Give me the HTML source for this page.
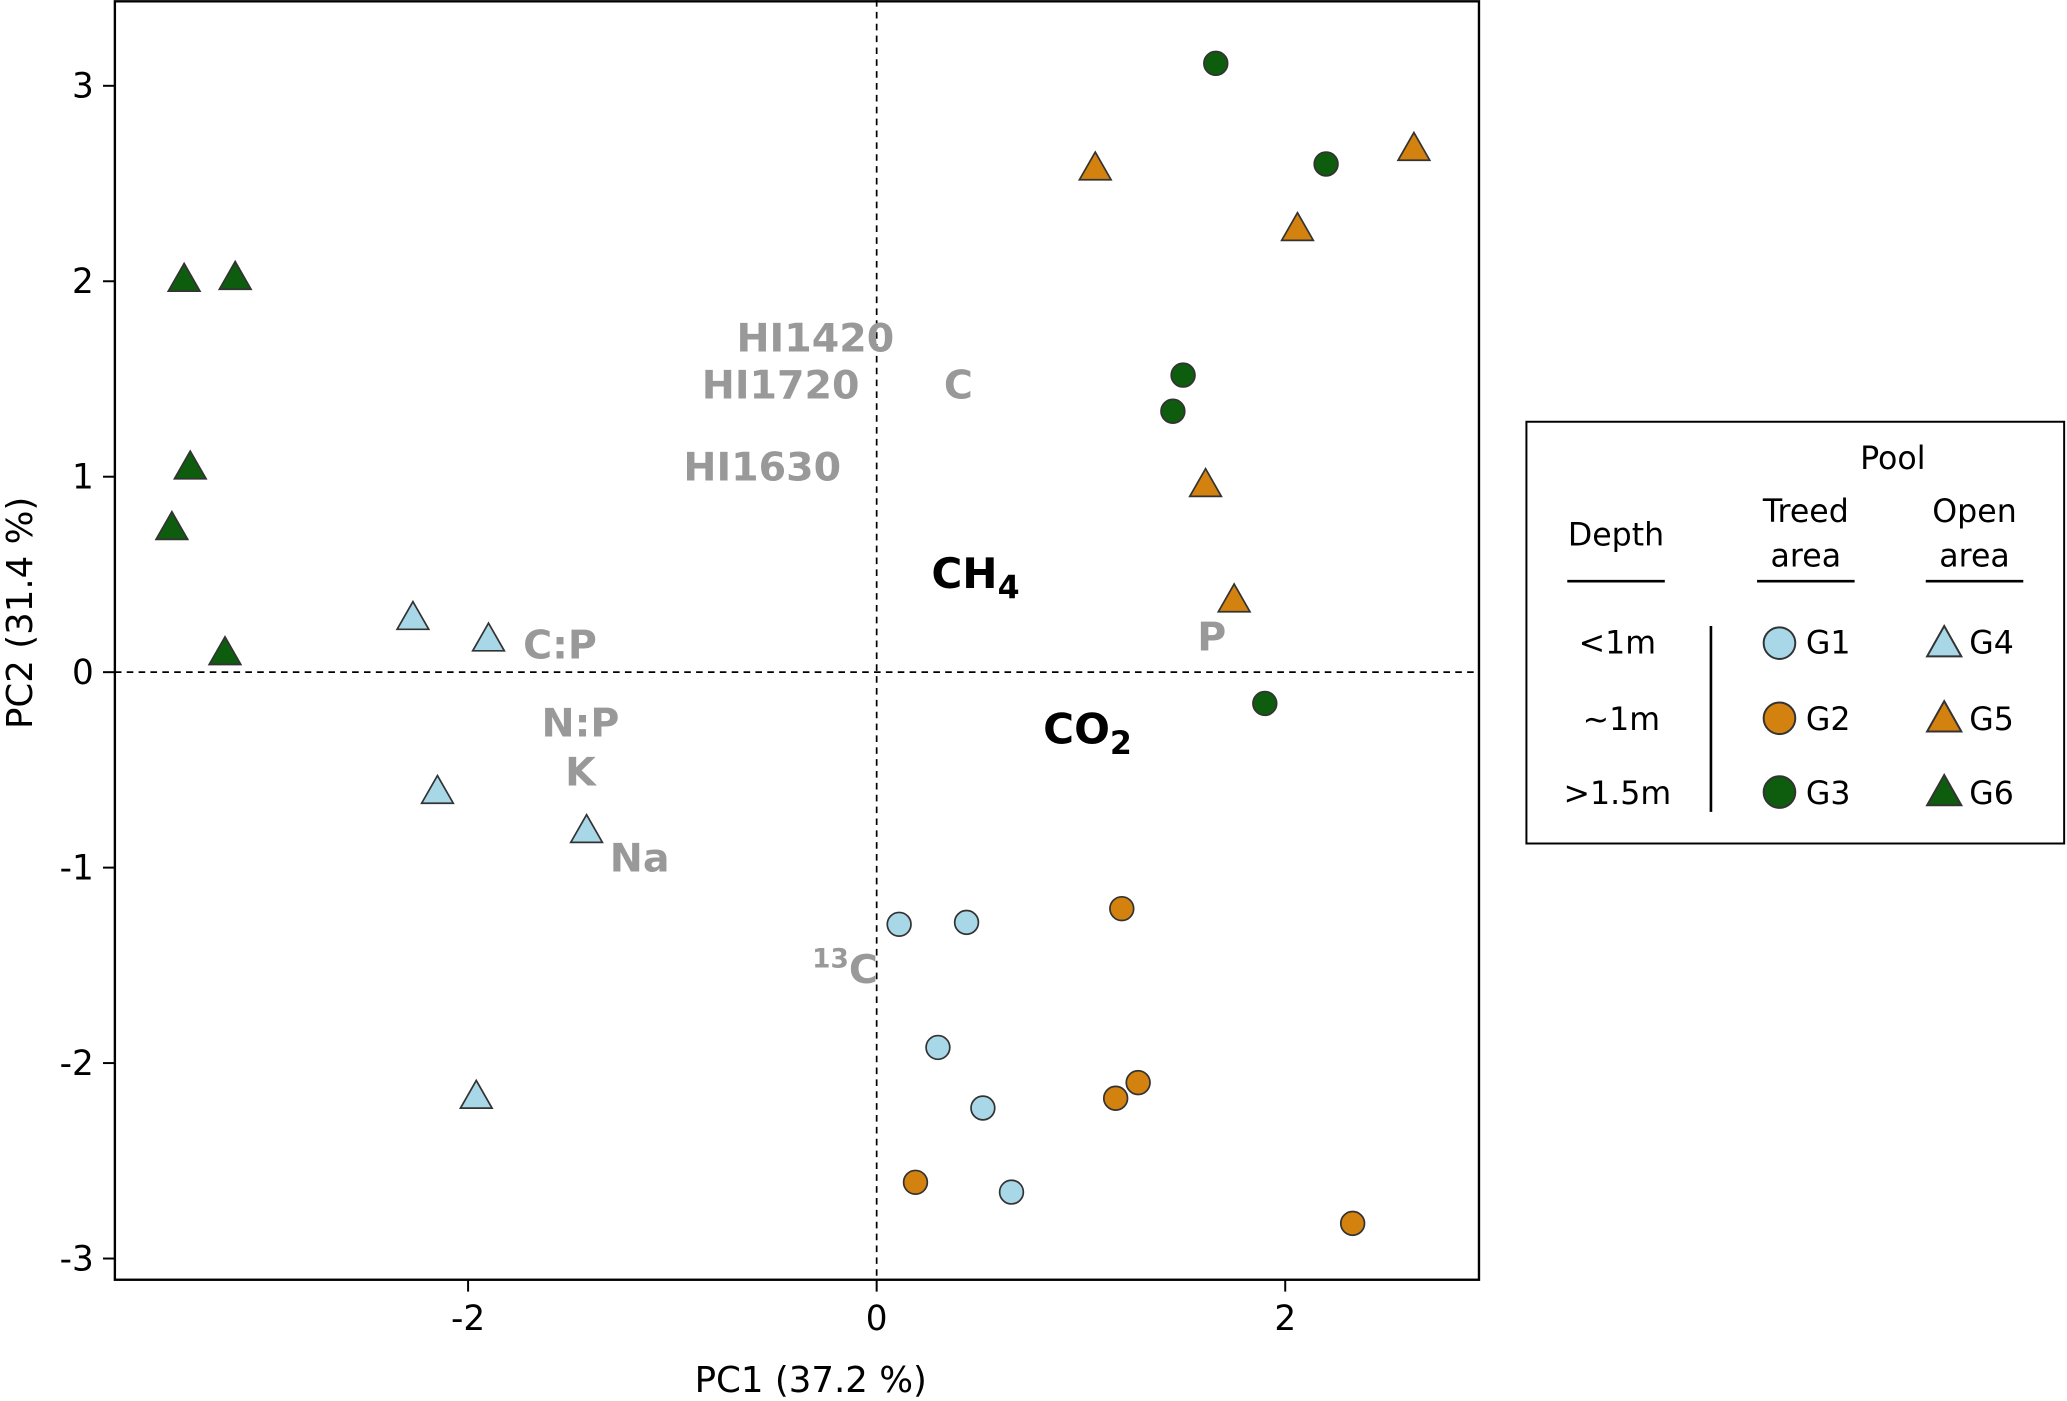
<!DOCTYPE html>
<html><head><meta charset="utf-8"><style>
html,body{margin:0;padding:0;background:#fff;}
svg{display:block;font-family:"DejaVu Sans","Liberation Sans",sans-serif;}
</style></head><body>
<svg id="chart" width="2067" height="1401" viewBox="0 0 1568 1063" xmlns="http://www.w3.org/2000/svg">
<rect x="0" y="0" width="1568" height="1063" fill="#fff"/>
<g id="plot"></g>
<g id="legend">
<rect x="1158" y="320" width="408" height="320" fill="#fff" stroke="#000" stroke-width="1.5"/>
<text x="1436" y="356" font-size="24" text-anchor="middle">Pool</text>
<text x="1226" y="414" font-size="24" text-anchor="middle">Depth</text>
<line x1="1189" y1="441" x2="1263" y2="441" stroke="#000" stroke-width="2"/>
<text x="1370" y="396" font-size="24" text-anchor="middle">Treed</text>
<text x="1370" y="430" font-size="24" text-anchor="middle">area</text>
<line x1="1333" y1="441" x2="1407" y2="441" stroke="#000" stroke-width="2"/>
<text x="1498" y="396" font-size="24" text-anchor="middle">Open</text>
<text x="1498" y="430" font-size="24" text-anchor="middle">area</text>
<line x1="1461" y1="441" x2="1535" y2="441" stroke="#000" stroke-width="2"/>
<line x1="1298" y1="475" x2="1298" y2="616" stroke="#000" stroke-width="2"/>
<text x="1227" y="496" font-size="24" text-anchor="middle">&lt;1m</text>
<text x="1230" y="554" font-size="24" text-anchor="middle">~1m</text>
<text x="1227" y="610" font-size="24" text-anchor="middle">&gt;1.5m</text>
<g><circle cx="1350" cy="488" r="12" fill="#a8d8e8" stroke="#333" stroke-width="1.5"/><text x="1370" y="496" font-size="24">G1</text></g>
<g><circle cx="1350" cy="545" r="12" fill="#d4820f" stroke="#333" stroke-width="1.5"/><text x="1370" y="554" font-size="24">G2</text></g>
<g><circle cx="1350" cy="601" r="12" fill="#0e5c0e" stroke="#333" stroke-width="1.5"/><text x="1370" y="610" font-size="24">G3</text></g>
<g><polygon points="1475,475 1488,498 1462,498" fill="#a8d8e8" stroke="#333" stroke-width="1.5"/><text x="1494" y="496" font-size="24">G4</text></g>
<g><polygon points="1475,532 1488,555 1462,555" fill="#d4820f" stroke="#333" stroke-width="1.5"/><text x="1494" y="554" font-size="24">G5</text></g>
<g><polygon points="1475,588 1488,611 1462,611" fill="#0e5c0e" stroke="#333" stroke-width="1.5"/><text x="1494" y="610" font-size="24">G6</text></g>
</g>
</svg>
<script>
const xTicks=[-2,0,2];
const yTicks=[3,2,1,0,-1,-2,-3];
const groups=["G1","G2","G3","G4","G5","G6"];
const g1x=[0.11,0.44,0.30,0.52,0.66], g1y=[-1.29,-1.28,-1.92,-2.23,-2.66];
const g2x=[1.20,1.28,1.17,0.19,2.33], g2y=[-1.21,-2.10,-2.18,-2.61,-2.82];
const g3x=[1.66,2.20,1.50,1.45,1.90], g3y=[3.115,2.60,1.52,1.335,-0.16];
const g4x=[-2.27,-1.90,-2.15,-1.42,-1.96], g4y=[0.28,0.17,-0.61,-0.81,-2.17];
const g5x=[1.07,2.63,2.06,1.61,1.75], g5y=[2.58,2.68,2.27,0.96,0.37];
const g6x=[-3.39,-3.14,-3.36,-3.45,-3.19], g6y=[2.01,2.02,1.05,0.74,0.10];
const varLabels=["HI1420","HI1720","HI1630","C","C:P","N:P","K","Na","P"];
const varX=[-0.30,-0.47,-0.56,0.40,-1.55,-1.45,-1.45,-1.16,1.64];
const varY=[1.64,1.40,0.98,1.40,0.07,-0.33,-0.58,-1.02,0.11];

const X0=87,X1=1122,Y0=0,Y1=971;
const sx=v=>665+v*155;
const sy=v=>510-v*148.3;
const NS="http://www.w3.org/2000/svg";
const plot=document.getElementById('plot');
function mk(tag,attrs,parent){const e=document.createElementNS(NS,tag);for(const k in attrs)e.setAttribute(k,attrs[k]);(parent||plot).appendChild(e);return e;}

let e=mk('line',{x1:sx(0),y1:Y0,x2:sx(0),y2:Y1,stroke:'#000','stroke-width':1.3,'stroke-dasharray':'5,4'});


e=mk('line',{x1:X0,y1:sy(0),x2:X1,y2:sy(0),stroke:'#000','stroke-width':1.3,'stroke-dasharray':'5,4'});



e=mk('rect',{x:X0,y:Y0+1,width:X1-X0,height:Y1-Y0-1,fill:'none',stroke:'#000','stroke-width':1.8});



xTicks.forEach(t=>{
  mk('line',{x1:sx(t),y1:Y1,x2:sx(t),y2:Y1+9,stroke:'#000','stroke-width':1.5});
  const tx=mk('text',{x:sx(t),y:Y1+38,'font-size':26,'text-anchor':'middle'});
  tx.textContent=t;
  
  
});
yTicks.forEach(t=>{
  mk('line',{x1:X0-9,y1:sy(t),x2:X0,y2:sy(t),stroke:'#000','stroke-width':1.5});
  const tx=mk('text',{x:X0-16,y:sy(t)+9,'font-size':26,'text-anchor':'end'});
  tx.textContent=t;
  
  
});
e=mk('text',{x:615,y:1056,'font-size':27,'text-anchor':'middle'});
e.textContent='PC1 (37.2 %)';


e=mk('text',{x:0,y:0,'font-size':27,'text-anchor':'middle',transform:'translate(24,465) rotate(-90)'});
e.textContent='PC2 (31.4 %)';



varLabels.forEach((l,i)=>{
  const t=mk('text',{x:sx(varX[i]),y:sy(varY[i]),'font-size':30,'font-weight':'bold',fill:'#999','text-anchor':'middle'});
  t.textContent=l;
  
  
});
e=mk('text',{x:641,y:746,'font-size':30,'font-weight':'bold',fill:'#999','text-anchor':'middle'});
e.innerHTML='<tspan font-size="20" dy="-12">13</tspan><tspan dy="12">C</tspan>';


e=mk('text',{x:740,y:446,'font-size':32,'font-weight':'bold','text-anchor':'middle'});
e.innerHTML='CH<tspan font-size="24" dy="8">4</tspan>';


e=mk('text',{x:825,y:564,'font-size':32,'font-weight':'bold','text-anchor':'middle'});
e.innerHTML='CO<tspan font-size="24" dy="8">2</tspan>';



const series=[[g1x,g1y,'#a8d8e8','c'],[g2x,g2y,'#d4820f','c'],[g3x,g3y,'#0e5c0e','c'],
              [g4x,g4y,'#a8d8e8','t'],[g5x,g5y,'#d4820f','t'],[g6x,g6y,'#0e5c0e','t']];
series.forEach((s,gi)=>{
  s[0].forEach((xv,i)=>{
    const cx=sx(xv),cy=sy(s[1][i]);
    let m;
    if(s[3]==='c') m=mk('circle',{cx:cx,cy:cy,r:9,fill:s[2],stroke:'#333','stroke-width':1.3});
    else m=mk('polygon',{points:`${cx},${cy-12} ${cx+12},${cy+9} ${cx-12},${cy+9}`,fill:s[2],stroke:'#333','stroke-width':1.3});
    
    
  });
});
</script>
</body></html>
